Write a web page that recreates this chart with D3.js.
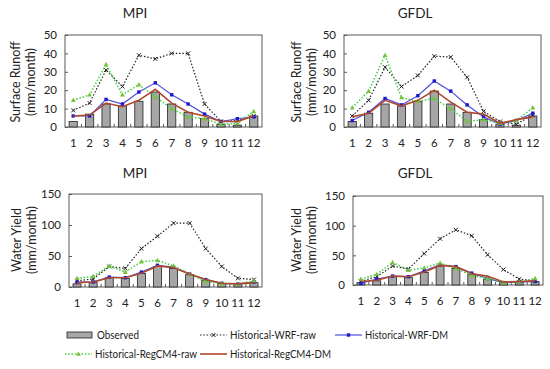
<!DOCTYPE html>
<html>
<head>
<meta charset="utf-8">
<script src="https://cdn.jsdelivr.net/npm/d3@7"></script>
<style>
  body { margin: 0; background: #fff; }
  svg text { font-family: Lato, "Open Sans", sans-serif; fill: #222; }
</style>
</head>
<body>
<script>
// données
const months = [1, 2, 3, 4, 5, 6, 7, 8, 9, 10, 11, 12];

// MPI - surface runoff
const mpiRunObs    = [3, 7, 12.5, 11.5, 14, 19, 12.5, 8, 4.5, 1.5, 1, 6];
const mpiRunWrfRaw = [9, 13, 31, 22, 39, 37, 40, 40, 12.5, 3, 3.5, 6];
const mpiRunWrfDm  = [6, 6, 15, 12.5, 19, 24, 17.5, 12.5, 7, 3, 4.5, 5.5];
const mpiRunRegRaw = [14.5, 17.5, 34, 17.5, 23, 16.5, 10, 5.5, 4.5, 1.5, 2, 8.5];
const mpiRunRegDm  = [6, 6.5, 13, 11, 14.5, 20.5, 13, 8, 6, 3, 3, 6];

// GFDL - surface runoff
const gfdlRunObs    = [3, 7.5, 12.5, 11.5, 14, 19.5, 12.5, 8, 4, 1.5, 1, 6];
const gfdlRunWrfRaw = [6, 14.5, 32.5, 22, 28, 38.5, 38, 27, 8.5, 3, 1.5, 6.5];
const gfdlRunWrfDm  = [3.5, 8, 15.5, 12, 17, 25, 19.5, 12, 5.5, 1.5, 3.5, 7.5];
const gfdlRunRegRaw = [10.5, 19.5, 39, 16, 14, 15.5, 10, 3, 4, 2, 3.5, 10.5];
const gfdlRunRegDm  = [5.5, 7.5, 14.5, 11.5, 14.5, 20, 13.5, 8, 7, 2, 4, 5.5];

// MPI - water yield
const mpiWyObs    = [5, 7, 15, 14, 22, 33, 30, 20, 11, 6, 5, 7];
const mpiWyWrfRaw = [10, 13, 33, 30, 62, 82, 103, 103, 62, 33, 14, 12];
const mpiWyWrfDm  = [8, 8, 16, 15, 24, 35, 32, 21, 12, 6, 5, 8];
const mpiWyRegRaw = [14, 17, 34, 24, 41, 43, 34, 21, 9, 5, 5, 10];
const mpiWyRegDm  = [7, 8, 15, 15, 22, 34, 31, 21, 12, 6, 5, 7];

// GFDL - water yield
const gfdlWyObs    = [4, 7, 14, 13, 21, 32, 28, 18, 10, 5, 4, 6];
const gfdlWyWrfRaw = [6, 14, 32, 27, 53, 78, 93, 83, 51, 26, 10, 7];
const gfdlWyWrfDm  = [3, 10, 15, 14, 24, 34, 31, 20, 11, 4, 5, 6];
const gfdlWyRegRaw = [10, 18, 38, 25, 29, 37, 28, 16, 11, 4, 5, 11];
const gfdlWyRegDm  = [6, 8, 15, 14, 22, 33, 31, 19, 15, 5, 6, 7];

const runoffTicks = [0, 10, 20, 30, 40, 50];
const yieldTicks = [0, 50, 100, 150];

const seriesNames = ["Observed", "Historical-WRF-raw", "Historical-WRF-DM",
                     "Historical-RegCM4-raw", "Historical-RegCM4-DM"];

// styles des séries
const styles = {
  wrfRaw: { color: "#222", width: 1.2, dash: "1.5,1.8", marker: "x" },
  wrfDm:  { color: "#4d4de0", width: 1.2, dash: null, marker: "sq", mcolor: "#1a1acc" },
  regRaw: { color: "#3fcf3f", width: 1.5, dash: "1.5,1.8", marker: "tri", mcolor: "#77c23a" },
  regDm:  { color: "#b0482c", width: 1.6, dash: null, marker: null }
};

const svg = d3.select("body").append("svg")
  .attr("width", 550)
  .attr("height", 369);

// panneaux
const panels = [
  { title: "MPI",  tx: 135, ty: 18, l: 65,  r: 262, t: 35,  b: 127, max: 50, ticks: runoffTicks,
    lab: ["Surface Runoff", "(mm/month)"], lx: [20, 35], ly: 82,
    obs: mpiRunObs, wrfRaw: mpiRunWrfRaw, wrfDm: mpiRunWrfDm, regRaw: mpiRunRegRaw, regDm: mpiRunRegDm },
  { title: "GFDL", tx: 415, ty: 18, l: 344, r: 541, t: 35,  b: 127, max: 50, ticks: runoffTicks,
    lab: ["Surface Runoff", "(mm/month)"], lx: [301, 316], ly: 82,
    obs: gfdlRunObs, wrfRaw: gfdlRunWrfRaw, wrfDm: gfdlRunWrfDm, regRaw: gfdlRunRegRaw, regDm: gfdlRunRegDm },
  { title: "MPI",  tx: 135, ty: 178, l: 69, r: 262, t: 194, b: 287, max: 150, ticks: yieldTicks,
    lab: ["Water Yield", "(mm/month)"], lx: [21, 36], ly: 240,
    obs: mpiWyObs, wrfRaw: mpiWyWrfRaw, wrfDm: mpiWyWrfDm, regRaw: mpiWyRegRaw, regDm: mpiWyRegDm },
  { title: "GFDL", tx: 415, ty: 178, l: 353, r: 543, t: 196, b: 285, max: 150, ticks: yieldTicks,
    lab: ["Water Yield", "(mm/month)"], lx: [301, 316], ly: 240,
    obs: gfdlWyObs, wrfRaw: gfdlWyWrfRaw, wrfDm: gfdlWyWrfDm, regRaw: gfdlWyRegRaw, regDm: gfdlWyRegDm }
];

function marker(g, type, cx, cy, col) {
  if (type === "x") {
    g.append("path")
      .attr("d", `M${cx-2},${cy-2}L${cx+2},${cy+2}M${cx-2},${cy+2}L${cx+2},${cy-2}`)
      .attr("stroke", col).attr("stroke-width", 1);
  } else if (type === "sq") {
    g.append("rect").attr("x", cx - 1.7).attr("y", cy - 1.7)
      .attr("width", 3.4).attr("height", 3.4).attr("fill", col);
  } else if (type === "tri") {
    g.append("path")
      .attr("d", `M${cx},${cy-2.6}L${cx+2.4},${cy+1.8}L${cx-2.4},${cy+1.8}Z`)
      .attr("fill", col);
  }
}

panels.forEach(p => {
  const g = svg.append("g");

  let x = d3.scaleBand().domain(months).range([p.l, p.r]).padding(0);
  let y = d3.scaleLinear().domain([0, p.max]).range([p.b, p.t]);

  // cadre
  g.append("rect")
    .attr("x", p.l).attr("y", p.t)
    .attr("width", p.r - p.l).attr("height", p.b - p.t)
    .attr("fill", "none").attr("stroke", "#595959").attr("stroke-width", 1);

  // axe Y (graduations vers l'intérieur)
  g.append("g")
    .attr("transform", "translate(" + p.l + ",0)")
    .call(d3.axisLeft(y).tickValues(p.ticks).tickSize(-3).tickPadding(8))
    .call(a => a.select(".domain").remove())
    .call(a => a.selectAll("line").attr("stroke", "#595959"))
    .selectAll("text")
    .style("font-size", "11.5px")
    .style("font-family", "Lato, sans-serif")
    .attr("fill", "#222");

  // axe X
  g.append("g")
    .attr("transform", "translate(0," + p.b + ")")
    .call(d3.axisBottom(x).tickSize(0).tickPadding(12))
    .call(a => a.select(".domain").remove())
    .selectAll("text")
    .style("font-size", "11.5px")
    .style("font-family", "Lato, sans-serif")
    .attr("fill", "#222");

  // petites graduations entre les mois
  g.selectAll(".bt")
    .data(months.slice(1))
    .enter()
    .append("line")
    .attr("x1", d => x(d)).attr("x2", d => x(d))
    .attr("y1", p.b).attr("y2", p.b - 3)
    .attr("stroke", "#595959").attr("stroke-width", 1);

  // barres observées
  g.selectAll(".bar")
    .data(p.obs)
    .enter()
    .append("rect")
    .attr("x", (d, i) => x(months[i]) + x.bandwidth() * 0.25)
    .attr("y", d => y(d))
    .attr("width", x.bandwidth() * 0.5)
    .attr("height", d => y(0) - y(d))
    .attr("fill", "#a6a6a6")
    .attr("stroke", "#222")
    .attr("stroke-width", 0.8);

  const cx = i => x(months[i]) + x.bandwidth() / 2;

  ["wrfRaw", "wrfDm", "regRaw", "regDm"].forEach(k => {
    const s = styles[k];
    const line = d3.line().x((d, i) => cx(i)).y(d => y(d));
    g.append("path")
      .datum(p[k])
      .attr("d", line)
      .attr("fill", "none")
      .attr("stroke", s.color)
      .attr("stroke-width", s.width)
      .attr("stroke-dasharray", s.dash);
    if (s.marker) {
      p[k].forEach((d, i) => marker(g, s.marker, cx(i), y(d), s.mcolor || s.color));
    }
  });

  // titre
  g.append("text")
    .text(p.title)
    .attr("x", p.tx).attr("y", p.ty)
    .attr("text-anchor", "middle")
    .style("font-size", "13.5px");

  // libellé Y
  p.lab.forEach((t, j) => {
    g.append("text")
      .text(t)
      .attr("text-anchor", "middle")
      .attr("transform", "translate(" + p.lx[j] + "," + p.ly + ") rotate(-90)")
      .style("font-size", "12.5px");
  });
});

// légende (largeurs de texte calées sur l'original, police plus étroite)
const leg = svg.append("g");
const legItems = [
  { name: seriesNames[0], k: "obs",    x0: 67,  y: 335, w: 42 },
  { name: seriesNames[1], k: "wrfRaw", x0: 200, y: 335, w: 86 },
  { name: seriesNames[2], k: "wrfDm",  x0: 335, y: 335, w: 83 },
  { name: seriesNames[3], k: "regRaw", x0: 65,  y: 354, w: 102 },
  { name: seriesNames[4], k: "regDm",  x0: 200, y: 354, w: 101 }
];

legItems.forEach(it => {
  if (it.k === "obs") {
    leg.append("rect")
      .attr("x", it.x0).attr("y", it.y - 3)
      .attr("width", 25).attr("height", 6)
      .attr("fill", "#a6a6a6").attr("stroke", "#222").attr("stroke-width", 0.8);
  } else {
    const s = styles[it.k];
    leg.append("line")
      .attr("x1", it.x0).attr("x2", it.x0 + 27)
      .attr("y1", it.y).attr("y2", it.y)
      .attr("stroke", s.color)
      .attr("stroke-width", s.width)
      .attr("stroke-dasharray", s.dash);
    if (s.marker) marker(leg, s.marker, it.x0 + 13.5, it.y, s.mcolor || s.color);
  }
  leg.append("text")
    .text(it.name)
    .attr("x", it.x0 + 30)
    .attr("y", it.y + 4)
    .attr("textLength", it.w)
    .attr("lengthAdjust", "spacingAndGlyphs")
    .style("font-size", "11px");
});
</script>
</body>
</html>
